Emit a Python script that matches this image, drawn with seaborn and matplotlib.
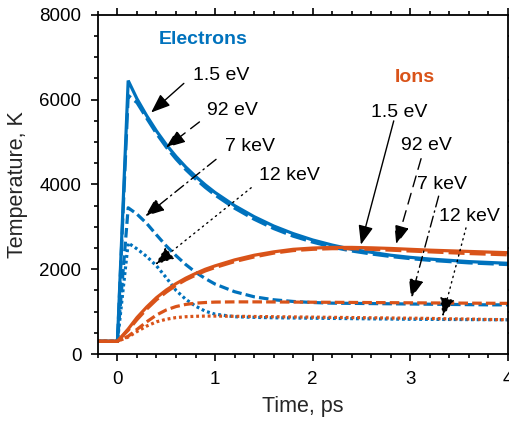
import matplotlib
matplotlib.use("Agg")
import matplotlib.pyplot as plt
import seaborn as sns
import pandas as pd
from matplotlib.ticker import MultipleLocator

# ---- data ----
t = [-0.2, 0.0, 0.11, 0.2, 0.3, 0.4, 0.5, 0.6, 0.7, 0.8, 0.9, 1.0,
     1.2, 1.4, 1.6, 1.8, 2.0, 2.2, 2.4, 2.6, 2.8, 3.0, 3.2, 3.4, 3.6, 3.8, 4.0]

te_1p5eV = [300, 300, 6450, 6020, 5620, 5260, 4940, 4660, 4410, 4190, 3990, 3810,
            3500, 3240, 3020, 2840, 2690, 2570, 2470, 2400, 2330, 2280, 2240, 2210, 2180, 2160, 2140]
te_92eV = [300, 300, 6100, 5930, 5560, 5200, 4880, 4600, 4350, 4130, 3930, 3750,
           3440, 3180, 2960, 2780, 2640, 2520, 2430, 2360, 2300, 2250, 2210, 2180, 2150, 2130, 2110]
te_7keV = [300, 300, 3450, 3300, 3080, 2810, 2550, 2320, 2110, 1930, 1780, 1650,
           1470, 1350, 1280, 1240, 1215, 1200, 1195, 1190, 1185, 1180, 1175, 1170, 1165, 1160, 1160]
te_12keV = [300, 300, 2620, 2480, 2300, 2080, 1800, 1500, 1290, 1130, 1010, 940,
            880, 865, 855, 850, 845, 840, 835, 830, 825, 820, 818, 815, 812, 810, 808]

ti_1p5eV = [300, 300, 590, 860, 1110, 1330, 1510, 1660, 1790, 1900, 2000, 2080,
            2220, 2330, 2410, 2470, 2500, 2515, 2515, 2505, 2490, 2470, 2450, 2435, 2420, 2405, 2390]
ti_92eV = [300, 300, 560, 810, 1060, 1280, 1460, 1620, 1750, 1860, 1960, 2040,
           2180, 2290, 2380, 2440, 2470, 2485, 2485, 2470, 2450, 2430, 2410, 2390, 2370, 2355, 2340]
ti_7keV = [300, 300, 420, 580, 760, 920, 1040, 1120, 1170, 1200, 1215, 1225,
           1230, 1230, 1228, 1225, 1222, 1220, 1217, 1214, 1211, 1208, 1205, 1203, 1200, 1198, 1195]
ti_12keV = [300, 300, 400, 530, 660, 760, 820, 860, 880, 890, 895, 895,
            890, 885, 880, 875, 870, 865, 860, 855, 850, 845, 840, 830, 825, 815, 810]

labels = ["1.5 eV", "92 eV", "7 keV", "12 keV"]
x_ticks = [0, 1, 2, 3, 4]
y_ticks = [0, 2000, 4000, 6000, 8000]

BLUE = "#0072BD"
ORANGE = "#D95319"
styles = ["-", (0, (5, 1.6)), (0, (3.0, 1.3)), (0, (0.9, 0.9))]
arrow_styles = ["-", (0, (8, 5)), (0, (8, 3, 1, 3)), (0, (1, 3))]

sns.set_theme(style="ticks")
plt.rcParams["font.family"] = ["Liberation Sans", "DejaVu Sans"]
plt.rcParams["font.size"] = 13

fig = plt.figure(figsize=(5.1, 4.25), dpi=100)
ax = fig.add_axes([0.192, 0.167, 0.804, 0.798])

for vals, ls in zip([te_1p5eV, te_92eV, te_7keV, te_12keV], styles):
    df = pd.DataFrame({"t": t, "T": vals})
    sns.lineplot(data=df, x="t", y="T", ax=ax, color=BLUE, linewidth=2.3,
                 linestyle=ls, solid_joinstyle="miter")
for vals, ls in zip([ti_1p5eV, ti_92eV, ti_7keV, ti_12keV], styles):
    df = pd.DataFrame({"t": t, "T": vals})
    sns.lineplot(data=df, x="t", y="T", ax=ax, color=ORANGE, linewidth=2.3,
                 linestyle=ls)

ax.set_xlim(-0.2, 4)
ax.set_ylim(0, 8000)
ax.set_xticks(x_ticks)
ax.set_yticks(y_ticks)
ax.xaxis.set_minor_locator(MultipleLocator(0.2))
ax.yaxis.set_minor_locator(MultipleLocator(500))
ax.tick_params(which="both", direction="out", top=True, right=True,
               labelsize=13.5, colors="black", width=1.2)
ax.tick_params(which="major", length=5, pad=7)
ax.tick_params(which="minor", length=3)
for s in ax.spines.values():
    s.set_linewidth(1.3)
    s.set_color("black")
ax.set_xlabel("Time, ps", fontsize=15.5, labelpad=6)
ax.set_ylabel("Temperature, K", fontsize=15.5, labelpad=8)

ax.text(0.88, 7420, "Electrons", color=BLUE, fontsize=14, fontweight="bold",
        ha="center", va="center")
ax.text(3.05, 6520, "Ions", color=ORANGE, fontsize=14, fontweight="bold",
        ha="center", va="center")

e_text = [(1.06, 6560), (1.18, 5740), (1.36, 4900), (1.76, 4200)]
e_tail = [(0.68, 6384), (0.84, 5475), (1.01, 4592), (1.37, 3922)]
e_tip = [(0.345, 5697), (0.497, 4869), (0.284, 3250), (0.386, 2107)]
i_text = [(2.89, 5705), (3.16, 4912), (3.32, 3988), (3.61, 3255)]
i_tail = [(2.83, 5499), (3.11, 4608), (3.29, 3724), (3.57, 2975)]
i_tip = [(2.494, 2580), (2.856, 2580), (3.008, 1318), (3.33, 883)]

for texts, tails, tips in [(e_text, e_tail, e_tip), (i_text, i_tail, i_tip)]:
    for lab, pt, tl, tp, als in zip(labels, texts, tails, tips, arrow_styles):
        ax.text(pt[0], pt[1], lab, fontsize=14, ha="center", va="center", color="black")
        ax.annotate("", xy=tp, xytext=tl,
                    arrowprops=dict(arrowstyle="-|>,head_length=0.9,head_width=0.35",
                                    color="black", lw=1.0, linestyle=als,
                                    shrinkA=0, shrinkB=0))

fig.savefig("out.png", dpi=100)
